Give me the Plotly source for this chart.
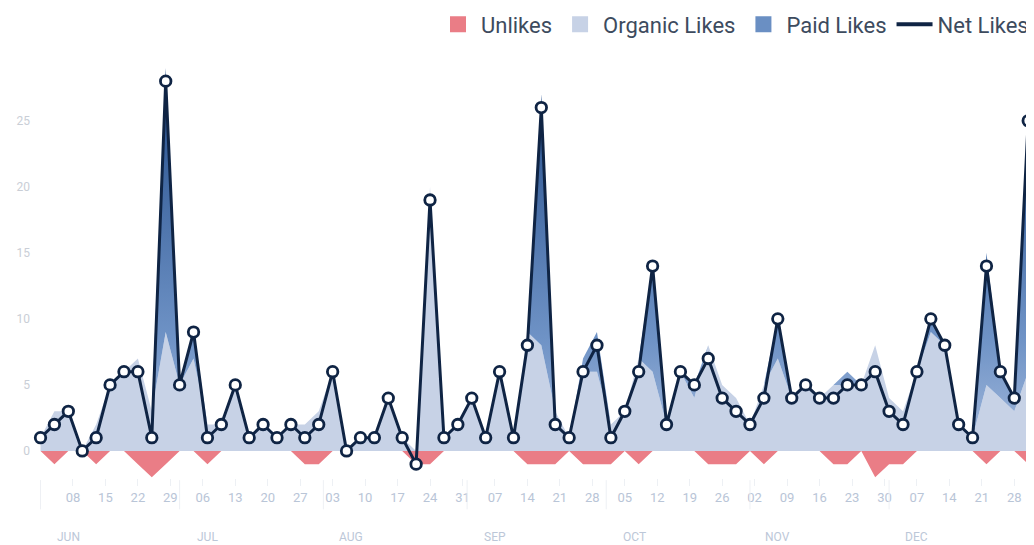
import pandas as pd
import plotly.graph_objects as go

# ---------------- data ----------------
start_date = "2020-06-01"
n_points = 72
net_likes = [1, 2, 3, 0, 1, 5, 6, 6, 1, 28, 5, 9, 1, 2, 5, 1, 2, 1, 2, 1,
             2, 6, 0, 1, 1, 4, 1, -1, 19, 1, 2, 4, 1, 6, 1, 8, 26, 2, 1, 6,
             8, 1, 3, 6, 14, 2, 6, 5, 7, 4, 3, 2, 4, 10, 4, 5, 4, 4, 5, 5,
             6, 3, 2, 6, 10, 8, 2, 1, 14, 6, 4, 25]
unlikes = [0, 1, 0, 0, 1, 0, 0, 1, 2, 1, 0, 0, 1, 0, 0, 0, 0, 0, 0, 1,
           1, 0, 0, 0, 0, 0, 0, 1, 1, 0, 0, 0, 0, 0, 0, 1, 1, 1, 0, 1,
           1, 1, 0, 1, 0, 0, 0, 0, 1, 1, 1, 0, 1, 0, 0, 0, 0, 1, 1, 0,
           2, 1, 1, 0, 0, 0, 0, 0, 1, 0, 0, 1]
paid_likes = [0, 0, 0, 0, 0, 0, 0, 0, 0, 20, 0, 2, 0, 0, 0, 0, 0, 0, 0, 0,
              0, 0, 0, 0, 0, 0, 0, 0, 0, 0, 0, 0, 0, 0, 0, 0, 19, 0, 0, 1,
              3, 0, 0, 0, 8, 0, 0, 1, 0, 0, 0, 0, 0, 3, 0, 0, 0, 0, 1, 0,
              0, 0, 0, 0, 1, 0, 0, 0, 10, 2, 1, 20]
organic_likes = [1, 3, 3, 0, 2, 5, 6, 7, 3, 9, 5, 7, 2, 2, 5, 1, 2, 1, 2, 2,
                 3, 6, 0, 1, 1, 4, 1, 0, 20, 1, 2, 4, 1, 6, 1, 9, 8, 3, 1, 6,
                 6, 2, 3, 7, 6, 2, 6, 4, 8, 5, 4, 2, 5, 7, 4, 5, 4, 5, 5, 5,
                 8, 4, 3, 6, 9, 8, 2, 1, 5, 4, 3, 6]

tick_dates = ["2020-06-08", "2020-06-15", "2020-06-22", "2020-06-29",
              "2020-07-06", "2020-07-13", "2020-07-20", "2020-07-27",
              "2020-08-03", "2020-08-10", "2020-08-17", "2020-08-24", "2020-08-31",
              "2020-09-07", "2020-09-14", "2020-09-21", "2020-09-28",
              "2020-10-05", "2020-10-12", "2020-10-19", "2020-10-26",
              "2020-11-02", "2020-11-09", "2020-11-16", "2020-11-23", "2020-11-30",
              "2020-12-07", "2020-12-14", "2020-12-21", "2020-12-28"]
tick_labels = ["08", "15", "22", "29", "06", "13", "20", "27", "03", "10",
               "17", "24", "31", "07", "14", "21", "28", "05", "12", "19",
               "26", "02", "09", "16", "23", "30", "07", "14", "21", "28"]
month_labels = ["JUN", "JUL", "AUG", "SEP", "OCT", "NOV", "DEC"]
month_label_dates = ["2020-06-07", "2020-07-07", "2020-08-07", "2020-09-07",
                     "2020-10-07", "2020-11-07", "2020-12-07"]
month_starts = ["2020-06-01", "2020-07-01", "2020-08-01", "2020-09-01",
                "2020-10-01", "2020-11-01", "2020-12-01"]

dates = pd.date_range(start_date, periods=n_points, freq="3D")
neg_unlikes = [-u for u in unlikes]

# ---------------- styles ----------------
C_UNLIKE = "#ea7d86"
C_ORGANIC = "#c7d2e6"
C_PAID = "#6a8fc3"
C_NET = "#0f2444"
FONT = "Roboto"

fig = go.Figure()

fig.add_trace(go.Scatter(
    x=dates, y=neg_unlikes, stackgroup="neg", mode="none",
    fillcolor=C_UNLIKE, showlegend=False, hoverinfo="skip"))
fig.add_trace(go.Scatter(
    x=dates, y=organic_likes, stackgroup="pos", mode="none",
    fillcolor=C_ORGANIC, showlegend=False, hoverinfo="skip"))
fig.add_trace(go.Scatter(
    x=dates, y=paid_likes, stackgroup="pos", mode="none",
    fillcolor=C_PAID,
    fillgradient=dict(type="vertical", start=0, stop=28,
                      colorscale=[[0, "#a3b9dc"], [0.3, "#6f93c6"], [1, "#264f8c"]]),
    showlegend=False, hoverinfo="skip"))
fig.add_trace(go.Scatter(
    x=dates, y=net_likes, mode="lines+markers",
    line=dict(color=C_NET, width=3),
    marker=dict(size=10.5, color="white", line=dict(color=C_NET, width=2.8)),
    showlegend=False, cliponaxis=False))

# legend entries
for name, col in [("Unlikes", C_UNLIKE), ("Organic Likes", C_ORGANIC), ("Paid Likes", C_PAID)]:
    fig.add_trace(go.Scatter(x=[None], y=[None], mode="markers", name=name,
                             marker=dict(symbol="square", size=17, color=col)))
fig.add_trace(go.Scatter(x=[None], y=[None], mode="lines", name="Net Likes",
                         line=dict(color=C_NET, width=4)))

annotations = []
for lab, d in zip(month_labels, month_label_dates):
    annotations.append(dict(x=d, y=-0.14, xref="x", yref="paper", text=lab,
                            showarrow=False, yanchor="middle",
                            font=dict(family=FONT, size=12, color="#bcc7d8")))
shapes = []
for d in month_starts:
    shapes.append(dict(type="line", xref="x", yref="paper", x0=d, x1=d,
                       y0=-0.005, y1=-0.075, line=dict(color="#eef0f4", width=1)))

# the page body adds an 8px offset, so the figure is sized to fill the rest
fig.update_layout(
    width=1026, height=537,
    margin=dict(l=30, r=0, t=52, b=67, autoexpand=False),
    paper_bgcolor="white", plot_bgcolor="white",
    font=dict(family=FONT),
    showlegend=True,
    legend=dict(orientation="h", x=1.0, xanchor="right", y=1.085, yanchor="middle",
                font=dict(family=FONT, size=22, color="#3d4b5e"),
                traceorder="normal", itemwidth=36, bgcolor="rgba(0,0,0,0)"),
    xaxis=dict(type="date", range=["2020-05-31 11:00", "2021-01-01 06:00"],
               tickvals=tick_dates, ticktext=tick_labels,
               showgrid=False, zeroline=False, showline=False,
               ticks="outside", ticklen=7, tickcolor="#edf0f4",
               tickfont=dict(family=FONT, size=13, color="#b9c5d7")),
    yaxis=dict(range=[-2.05, 29.6], tickvals=[0, 5, 10, 15, 20, 25],
               showgrid=False, zeroline=False, showline=False,
               ticklabelstandoff=7,
               tickfont=dict(family=FONT, size=12, color="#c9ced6")),
    annotations=annotations, shapes=shapes,
)

fig.write_html("out.html")
